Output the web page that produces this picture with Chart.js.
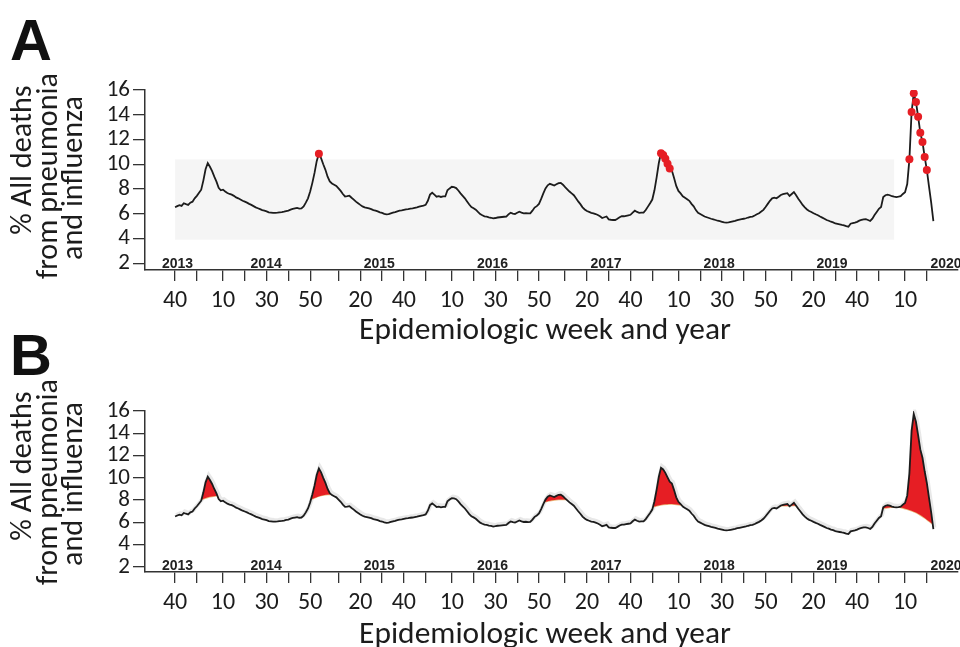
<!DOCTYPE html>
<html>
<head>
<meta charset="utf-8">
<script src="https://cdn.jsdelivr.net/npm/chart.js@4.4.1/dist/chart.umd.min.js"></script>
<style>
  html, body { margin: 0; padding: 0; background: #fff; }
  #wrap { position: relative; width: 960px; height: 647px; overflow: hidden; background: #fff; }
  canvas { position: absolute; left: 0; }
  #chartA { top: 0; }
  #chartB { top: 323px; }
</style>
</head>
<body>
<div id="wrap">
  <canvas id="chartA" width="960" height="345"></canvas>
  <canvas id="chartB" width="960" height="324"></canvas>
</div>
<script>
// Weekly % of all deaths from pneumonia and influenza.
// Week index 0 = MMWR week 40 of 2013 (2014 has 53 weeks).
const pniPercent = [
  6.53, 6.62, 6.70, 6.64, 6.85, 6.78, 6.72, 6.90, 6.98, 7.25,
  7.45, 7.70, 7.95, 8.70, 9.60, 10.10, 9.80, 9.45, 9.00, 8.60,
  8.10, 7.90, 7.95, 7.80, 7.68, 7.60, 7.55, 7.45, 7.32, 7.25,
  7.15, 7.05, 6.98, 6.90, 6.80, 6.72, 6.62, 6.52, 6.45, 6.38,
  6.30, 6.26, 6.20, 6.12, 6.10, 6.08, 6.07, 6.09, 6.12, 6.14,
  6.17, 6.22, 6.26, 6.34, 6.40, 6.44, 6.48, 6.42, 6.44, 6.60,
  6.90, 7.25, 7.80, 8.50, 9.30, 10.25, 10.85, 10.50, 10.00, 9.55,
  9.00, 8.62, 8.45, 8.35, 8.25, 8.05, 7.85, 7.60, 7.40, 7.42,
  7.46, 7.30, 7.15, 6.98, 6.85, 6.72, 6.60, 6.52, 6.48, 6.44,
  6.38, 6.30, 6.26, 6.20, 6.12, 6.08, 6.00, 5.96, 5.98, 6.04,
  6.09, 6.14, 6.20, 6.25, 6.28, 6.32, 6.36, 6.38, 6.42, 6.44,
  6.48, 6.52, 6.57, 6.62, 6.66, 6.72, 7.05, 7.55, 7.70, 7.55,
  7.38, 7.42, 7.36, 7.40, 7.40, 7.90, 8.05, 8.18, 8.15, 8.08,
  7.88, 7.65, 7.45, 7.25, 7.00, 6.75, 6.55, 6.45, 6.33, 6.15,
  5.98, 5.88, 5.80, 5.77, 5.72, 5.68, 5.63, 5.66, 5.70, 5.72,
  5.74, 5.76, 5.77, 5.95, 6.09, 6.02, 5.98, 6.08, 6.17, 6.10,
  6.04, 6.06, 6.03, 6.04, 6.25, 6.50, 6.62, 6.80, 7.20, 7.65,
  8.05, 8.30, 8.42, 8.35, 8.28, 8.38, 8.48, 8.50, 8.35, 8.15,
  7.98, 7.80, 7.65, 7.50, 7.25, 7.00, 6.78, 6.52, 6.35, 6.22,
  6.15, 6.08, 6.04, 5.98, 5.90, 5.80, 5.66, 5.72, 5.78, 5.55,
  5.52, 5.50, 5.50, 5.60, 5.72, 5.80, 5.80, 5.84, 5.88, 5.92,
  6.10, 6.25, 6.15, 6.08, 6.10, 6.09, 6.30, 6.58, 6.85, 7.15,
  7.90, 8.95, 10.10, 10.90, 10.75, 10.45, 10.05, 9.65, 9.50, 8.90,
  8.25, 7.85, 7.65, 7.42, 7.30, 7.18, 7.05, 6.80, 6.60, 6.30,
  6.08, 5.98, 5.88, 5.78, 5.72, 5.66, 5.60, 5.55, 5.50, 5.44,
  5.40, 5.35, 5.30, 5.28, 5.30, 5.34, 5.38, 5.42, 5.48, 5.52,
  5.56, 5.60, 5.64, 5.70, 5.75, 5.78, 5.86, 5.96, 6.05, 6.18,
  6.32, 6.55, 6.80, 7.05, 7.25, 7.30, 7.25, 7.38, 7.52, 7.58,
  7.62, 7.66, 7.44, 7.60, 7.76, 7.50, 7.22, 6.98, 6.72, 6.52,
  6.35, 6.23, 6.15, 6.05, 5.96, 5.88, 5.78, 5.69, 5.60, 5.50,
  5.44, 5.36, 5.30, 5.22, 5.18, 5.14, 5.10, 5.07, 5.00, 4.96,
  5.20, 5.24, 5.28, 5.35, 5.45, 5.50, 5.55, 5.56, 5.50, 5.42,
  5.60, 5.90, 6.15, 6.40, 6.55, 7.35, 7.50, 7.55, 7.50, 7.42,
  7.38, 7.35, 7.38, 7.42, 7.60, 7.75, 8.40, 10.40, 14.22, 15.73,
  15.03, 13.84, 12.55, 11.80, 10.59, 9.54, 8.20, 6.90, 5.40
];

// Weeks flagged above the epidemic threshold (red markers in panel A)
const epidemicWeeks = [66, 223, 224, 225, 226, 227, 337, 338, 339, 340, 341, 342, 343, 344, 345];

// Expected seasonal level during the excess periods (panel B);
// a null value separates one excess period from the next.
const expectedWeeks = [
  12.2, 16, 19.4, 40,
  62.4, 67, 71.5, 120,
  169.4, 172, 176, 179.6, 200,
  219.35, 224, 228, 232.4, 250,
  277.7, 279.5, 281.8, 282.3,
  282.9, 284, 285.0, 300,
  324.9, 327, 330, 331,
  332.2, 336, 340, 344, 346, 347.7
];
const expectedPercent = [
  8.05, 8.3, 8.4, null,
  8.08, 8.4, 8.53, null,
  7.83, 7.95, 8.05, 8.05, null,
  7.4, 7.6, 7.65, 7.55, null,
  7.48, 7.5, 7.49, null,
  7.5, 7.52, 7.5, null,
  7.27, 7.32, 7.38, null,
  7.38, 7.18, 6.88, 6.4, 6.1, 5.85
];

// X axis ticks (week index) and their week-number labels
const tickWeeks = [0, 10, 22, 32, 42, 52, 62, 75, 85, 95, 105, 115, 127, 137, 147, 157, 167,
  179, 189, 199, 209, 219, 231, 241, 251, 261, 271, 283, 293, 303, 313, 323, 335, 345];
const tickLabels = ['40', '', '10', '', '30', '', '50', '', '20', '', '40', '', '10', '', '30', '', '50',
  '', '20', '', '40', '', '10', '', '30', '', '50', '', '20', '', '40', '', '10', ''];

// Year captions along the x axis
const yearLabels = ['2013', '2014', '2015', '2016', '2017', '2018', '2019', '2020'];
const yearLabelWeeks = [1.1, 41.8, 93.7, 145.7, 197.8, 249.7, 301.5, 353.8];

// Y axis ticks
const yTicks = [2, 4, 6, 8, 10, 12, 14, 16];

const TEXT_FONT = "Carlito, Lato, 'Open Sans', sans-serif";
const INK = '#1c1c1c';
const RED = 'rgb(230, 30, 36)';

const observedPoints = pniPercent.map((v, i) => ({ x: i, y: v }));
const expectedPoints = expectedWeeks.map((w, i) => ({ x: w, y: expectedPercent[i] }));
const flagged = new Set(epidemicWeeks);

// font size that makes a string span the given width
function fitFont(ctx, text, width, base) {
  ctx.font = '100px ' + base;
  return 100 * width / ctx.measureText(text).width;
}

// Text and decorations drawn around the plot area
const decor = {
  id: 'decor',
  beforeDatasetsDraw(chart, args, opts) {
    if (!opts.band) return;
    const { ctx, scales: { x, y } } = chart;
    const b = opts.band;
    const x0 = x.getPixelForValue(b.x0), x1 = x.getPixelForValue(b.x1);
    const y0 = y.getPixelForValue(b.y1), y1 = y.getPixelForValue(b.y0);
    ctx.save();
    ctx.fillStyle = 'rgba(0,0,0,0.04)';
    ctx.fillRect(x0, y0, x1 - x0, y1 - y0);
    ctx.restore();
  },
  beforeDatasetDraw(chart, args, opts) {
    if (opts.haloIndex === args.index) {
      chart.ctx.save();
      chart.ctx.translate(1, -1.5);
    }
  },
  afterDatasetDraw(chart, args, opts) {
    if (opts.haloIndex === args.index) chart.ctx.restore();
  },
  afterDraw(chart, args, opts) {
    const { ctx, chartArea, scales: { x } } = chart;
    ctx.save();
    ctx.fillStyle = '#111';
    // panel letter
    ctx.font = "bold 58px 'Liberation Sans', Arial, sans-serif";
    ctx.textAlign = 'left';
    ctx.textBaseline = 'alphabetic';
    ctx.fillText(opts.letter, 10, opts.letterBase);
    // year captions
    ctx.fillStyle = '#222';
    ctx.font = "bold 14px 'Liberation Sans', Arial, sans-serif";
    ctx.textAlign = 'center';
    yearLabels.forEach((t, i) => {
      ctx.fillText(t, x.getPixelForValue(yearLabelWeeks[i]), chartArea.bottom - 2);
    });
    // x axis title
    ctx.fillStyle = INK;
    const xt = 'Epidemiologic week and year';
    const xs = fitFont(ctx, xt, 372, TEXT_FONT);
    ctx.font = xs + 'px ' + TEXT_FONT;
    ctx.textBaseline = 'middle';
    ctx.fillText(xt, 545, opts.xTitleY);
    // y axis title (three rotated lines)
    const lines = ['% All deaths', 'from pneumonia', 'and influenza'];
    const ys = fitFont(ctx, lines[1], 206, TEXT_FONT);
    ctx.font = ys + 'px ' + TEXT_FONT;
    ctx.translate(49, opts.yTitleY);
    ctx.rotate(-Math.PI / 2);
    const shift = [16, 0, -2];
    lines.forEach((t, i) => {
      ctx.fillText(t, shift[i], (i - 1) * 25.5);
    });
    ctx.restore();
  }
};

function axes(yMin) {
  return {
    x: {
      type: 'linear',
      min: -13.8,
      max: 359.3,
      afterBuildTicks: s => { s.ticks = tickWeeks.map(v => ({ value: v })); },
      afterFit: s => { s.height = 53; },
      ticks: {
        autoSkip: false,
        maxRotation: 0,
        padding: 6,
        color: INK,
        font: { family: TEXT_FONT, size: 24 },
        callback: (v, i) => tickLabels[i]
      },
      grid: { drawOnChartArea: false, drawTicks: true, tickLength: 11, color: '#333', lineWidth: 1.3 },
      border: { display: true, color: '#333', width: 1.5 }
    },
    y: {
      type: 'linear',
      min: yMin,
      max: 16,
      afterBuildTicks: s => { s.ticks = yTicks.map(v => ({ value: v })); },
      afterFit: s => { s.width = 145; },
      ticks: {
        autoSkip: false,
        padding: 3,
        color: INK,
        font: { family: TEXT_FONT, size: 23 },
        callback: v => String(v)
      },
      grid: { drawOnChartArea: false, drawTicks: true, tickLength: 12, color: '#333', lineWidth: 1.3 },
      border: { display: true, color: '#333', width: 1.5 }
    }
  };
}

const common = {
  responsive: false,
  animation: false,
  devicePixelRatio: 1,
  events: [],
  plugins: { legend: { display: false }, tooltip: { enabled: false } }
};

// Panel A: weekly series with epidemic weeks marked
new Chart(document.getElementById('chartA'), {
  type: 'line',
  data: {
    datasets: [{
      data: observedPoints,
      borderColor: INK,
      borderWidth: 1.8,
      tension: 0,
      pointRadius: c => flagged.has(c.dataIndex) ? 4 : 0,
      pointBackgroundColor: RED,
      pointBorderWidth: 0,
      fill: false
    }]
  },
  options: {
    ...common,
    layout: { padding: { left: 0, right: 2, top: 90, bottom: 22 } },
    scales: axes(1.46),
    plugins: {
      ...common.plugins,
      decor: { letter: 'A', letterBase: 60, xTitleY: 331, yTitleY: 176, band: { x0: 0, x1: 330, y0: 3.9, y1: 10.4 } }
    }
  },
  plugins: [decor]
});

// Panel B: excess above the expected seasonal level shaded red
new Chart(document.getElementById('chartB'), {
  type: 'line',
  data: {
    datasets: [
      {
        data: observedPoints,
        borderColor: INK,
        backgroundColor: RED,
        borderWidth: 1.8,
        tension: 0,
        pointRadius: 0,
        fill: { target: 1 }
      },
      {
        data: expectedPoints,
        borderColor: 'rgba(232,175,105,0.9)',
        borderWidth: 1.4,
        tension: 0.3,
        pointRadius: 0,
        spanGaps: false,
        fill: false
      },
      {
        data: observedPoints,
        borderColor: 'rgba(140,140,140,0.2)',
        borderWidth: 4,
        tension: 0,
        pointRadius: 0,
        fill: false
      }
    ]
  },
  options: {
    ...common,
    layout: { padding: { left: 0, right: 2, top: 88, bottom: 22 } },
    scales: axes(1.55),
    plugins: {
      ...common.plugins,
      decor: { letter: 'B', letterBase: 52, xTitleY: 312, yTitleY: 159, haloIndex: 2 }
    }
  },
  plugins: [decor]
});
</script>
</body>
</html>
